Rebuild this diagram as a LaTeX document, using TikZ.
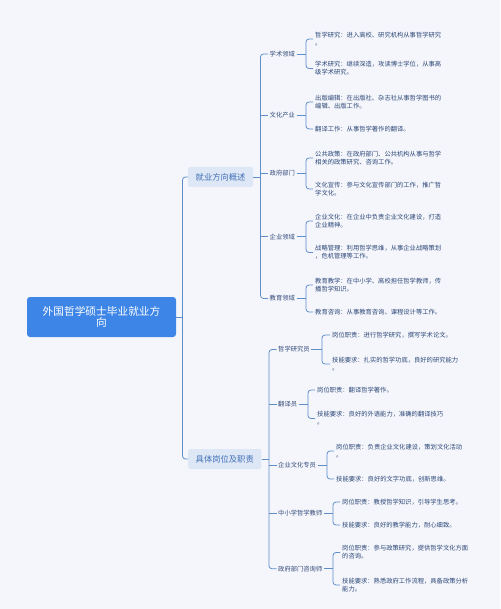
\documentclass[tikz,border=0pt]{standalone}
\usepackage{fontspec}
\setmainfont{Noto Sans CJK SC}
\definecolor{bgc}{HTML}{F4F6FB}
\definecolor{linec}{HTML}{5E8FCB}
\definecolor{leafc}{HTML}{2D4778}
\definecolor{labc}{HTML}{34497A}
\definecolor{rootc}{HTML}{3D85E6}
\definecolor{gfill}{HTML}{DEE7F5}
\definecolor{gtext}{HTML}{4070B8}
\begin{document}
\begin{tikzpicture}[x=1pt,y=-1pt,
  conn/.style={draw=linec, line width=0.8pt, rounded corners=3pt},
  leaf/.style={anchor=west, align=left, font=\fontsize{6.3}{8}\selectfont, text=leafc, inner xsep=2pt, inner ysep=1pt},
  lab/.style={anchor=west, font=\fontsize{6.3}{8}\selectfont, text=labc, inner xsep=1.5pt, inner ysep=1pt},
  grp/.style={anchor=west, font=\fontsize{8.3}{10}\selectfont, text=gtext, fill=gfill, rounded corners=2pt, inner xsep=7.5pt, minimum height=20pt},
  rootbox/.style={fill=rootc, text=white, rounded corners=3pt, align=center, font=\fontsize{10.7}{11.6}\selectfont, minimum width=149pt, minimum height=40pt}]
\useasboundingbox (0,0) rectangle (500,609);
\fill[bgc] (0,0) rectangle (500,609);

% root
\node[rootbox] (root) at (101.5,317) {外国哲学硕士毕业就业方\\向};

% level 1
\node[grp] (g1) at (188,177) {就业方向概述};
\node[grp] (g2) at (188,459) {具体岗位及职责};

% group 1 labels
\node[lab] (s1) at (268,54) {学术领域};
\node[lab] (s2) at (268,115.5) {文化产业};
\node[lab] (s3) at (268,173.5) {政府部门};
\node[lab] (s4) at (268,236.75) {企业领域};
\node[lab] (s5) at (268,298.5) {教育领域};

% group 1 leaves
\node[leaf] (s1a) at (313,39) {哲学研究：进入高校、研究机构从事哲学研究\\。};
\node[leaf] (s1b) at (313,68.5) {学术研究：继续深造，攻读博士学位，从事高\\级学术研究。};
\node[leaf] (s2a) at (313,102) {出版编辑：在出版社、杂志社从事哲学图书的\\编辑、出版工作。};
\node[leaf] (s2b) at (313,129) {翻译工作：从事哲学著作的翻译。};
\node[leaf] (s3a) at (313,158) {公共政策：在政府部门、公共机构从事与哲学\\相关的政策研究、咨询工作。};
\node[leaf] (s3b) at (313,189) {文化宣传：参与文化宣传部门的工作，推广哲\\学文化。};
\node[leaf] (s4a) at (313,221) {企业文化：在企业中负责企业文化建设，打造\\企业精神。};
\node[leaf] (s4b) at (313,252.5) {战略管理：利用哲学思维，从事企业战略策划\\，危机管理等工作。};
\node[leaf] (s5a) at (313,285) {教育教学：在中小学、高校担任哲学教师，传\\播哲学知识。};
\node[leaf] (s5b) at (313,312) {教育咨询：从事教育咨询、课程设计等工作。};

% group 2 labels
\node[lab] (t1) at (276.5,349.5) {哲学研究员};
\node[lab] (t2) at (276.5,404.25) {翻译员};
\node[lab] (t3) at (276.5,465) {企业文化专员};
\node[lab] (t4) at (276.5,513.5) {中小学哲学教师};
\node[lab] (t5) at (276.5,568.75) {政府部门咨询师};

% group 2 leaves
\node[leaf] (t1a) at (330,335) {岗位职责：进行哲学研究，撰写学术论文。};
\node[leaf] (t1b) at (330,364) {技能要求：扎实的哲学功底，良好的研究能力\\。};
\node[leaf] (t2a) at (315,390) {岗位职责：翻译哲学著作。};
\node[leaf] (t2b) at (315,418.5) {技能要求：良好的外语能力，准确的翻译技巧\\。};
\node[leaf] (t3a) at (334,451) {岗位职责：负责企业文化建设，策划文化活动\\。};
\node[leaf] (t3b) at (334,479) {技能要求：良好的文字功底，创新思维。};
\node[leaf] (t4a) at (340,502) {岗位职责：教授哲学知识，引导学生思考。};
\node[leaf] (t4b) at (340,525) {技能要求：良好的教学能力，耐心细致。};
\node[leaf] (t5a) at (340,552.5) {岗位职责：参与政策研究，提供哲学文化方面\\的咨询。};
\node[leaf] (t5b) at (340,585) {技能要求：熟悉政府工作流程，具备政策分析\\能力。};

% junction coordinates
\coordinate (rv) at (182.5,317);
\coordinate (v1) at (260.5,177);
\coordinate (v2) at (269,459);
\coordinate (b1) at (306,54);
\coordinate (b2) at (306,115.5);
\coordinate (b3) at (306,173.5);
\coordinate (b4) at (306,236.75);
\coordinate (b5) at (306,298.5);
\coordinate (c1) at (322,349.5);
\coordinate (c2) at (308,404.25);
\coordinate (c3) at (327,465);
\coordinate (c4) at (333,513.5);
\coordinate (c5) at (333,568.75);

% root connectors
\draw[conn] (root.east) -- (rv);
\draw[conn] (g1.west) -| (rv) |- (g2.west);

% group 1 connectors
\draw[conn] (g1.east) -- (v1);
\draw[conn] (s1.west) -| (v1) |- (s5.west);
\draw[conn] (v1 |- s2.west) -- (s2.west);
\draw[conn] (v1 |- s3.west) -- (s3.west);
\draw[conn] (v1 |- s4.west) -- (s4.west);

\foreach \i in {1,...,5}{
  \draw[conn] (s\i.east) -- (b\i);
  \draw[conn] (s\i a.west) -| (b\i) |- (s\i b.west);
}

% group 2 connectors
\draw[conn] (g2.east) -- (v2);
\draw[conn] (t1.west) -| (v2) |- (t5.west);
\draw[conn] (v2 |- t2.west) -- (t2.west);
\draw[conn] (v2 |- t3.west) -- (t3.west);
\draw[conn] (v2 |- t4.west) -- (t4.west);

\foreach \i in {1,...,5}{
  \draw[conn] (t\i.east) -- (c\i);
  \draw[conn] (t\i a.west) -| (c\i) |- (t\i b.west);
}
\end{tikzpicture}
\end{document}
